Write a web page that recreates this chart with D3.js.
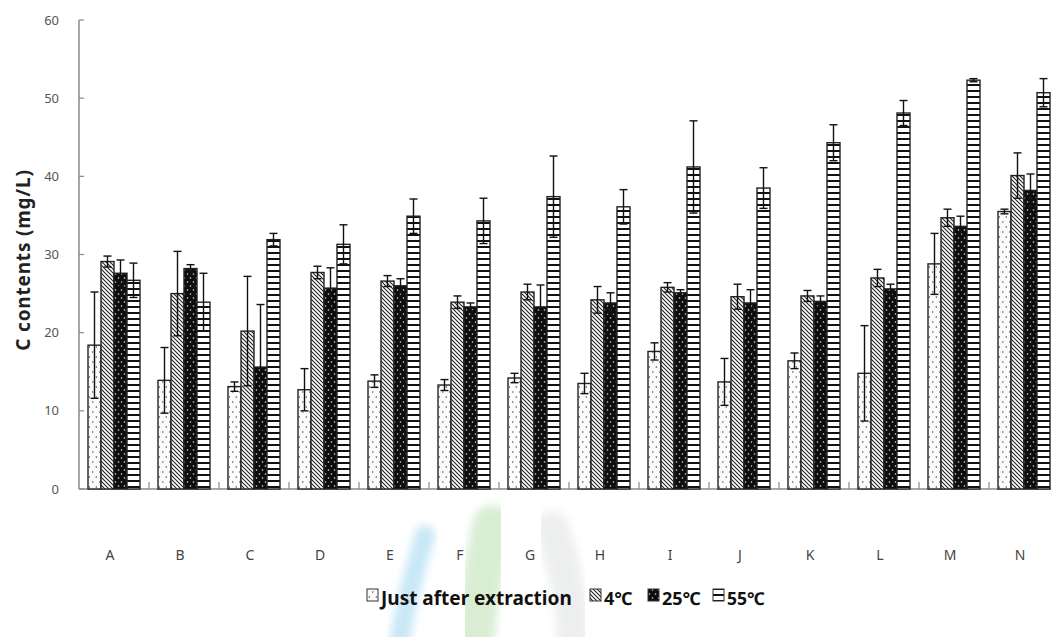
<!DOCTYPE html>
<html>
<head>
<meta charset="utf-8">
<script src="https://cdn.jsdelivr.net/npm/d3@7"></script>
<style>
  html, body { margin: 0; padding: 0; background: #fff; }
  svg { display: block; }
</style>
</head>
<body>
<svg id="chart" width="1051" height="637"></svg>
<script>
// Sample groups and storage conditions
const categories = ["A","B","C","D","E","F","G","H","I","J","K","L","M","N"];
const seriesNames = ["Just after extraction", "4℃", "25℃", "55℃"];

// Mean C contents (mg/L) per series, one value per sample
const justAfter = [18.4, 13.9, 13.1, 12.7, 13.8, 13.3, 14.2, 13.5, 17.6, 13.7, 16.4, 14.8, 28.8, 35.5];
const temp4     = [29.1, 25.0, 20.2, 27.7, 26.6, 23.9, 25.2, 24.2, 25.8, 24.6, 24.7, 27.0, 34.7, 40.1];
const temp25    = [27.6, 28.2, 15.6, 25.7, 26.0, 23.3, 23.3, 23.8, 25.1, 23.8, 24.0, 25.6, 33.6, 38.2];
const temp55    = [26.7, 23.9, 31.9, 31.3, 34.9, 34.3, 37.4, 36.1, 41.2, 38.5, 44.3, 48.1, 52.3, 50.7];

// Standard deviations
const errJust = [6.8, 4.2, 0.6, 2.7, 0.8, 0.7, 0.6, 1.3, 1.1, 3.0, 1.0, 6.1, 3.9, 0.3];
const err4    = [0.7, 5.4, 7.0, 0.8, 0.7, 0.8, 1.0, 1.7, 0.6, 1.6, 0.7, 1.1, 1.1, 2.9];
const err25   = [1.7, 0.5, 8.0, 2.6, 0.9, 0.5, 2.8, 1.3, 0.4, 1.7, 0.7, 0.6, 1.3, 2.1];
const err55   = [2.2, 3.7, 0.8, 2.5, 2.2, 2.9, 5.2, 2.2, 5.9, 2.6, 2.3, 1.6, 0.2, 1.8];

const yTicks = [0, 10, 20, 30, 40, 50, 60];

const seriesValues = [justAfter, temp4, temp25, temp55];
const seriesErrors = [errJust, err4, err25, err55];
const fills = ["url(#pDots)", "url(#pDiag)", "url(#pBlackDots)", "url(#pHoriz)"];

const svg = d3.select("#chart");

// ---- fill patterns ----
const defs = svg.append("defs");

const pDots = defs.append("pattern").attr("id", "pDots")
  .attr("patternUnits", "userSpaceOnUse").attr("width", 7).attr("height", 10);
pDots.append("rect").attr("width", 7).attr("height", 10).attr("fill", "#fbfbfb");
pDots.append("circle").attr("cx", 1.8).attr("cy", 2).attr("r", 0.75).attr("fill", "#444");
pDots.append("circle").attr("cx", 5.3).attr("cy", 7).attr("r", 0.75).attr("fill", "#444");

const pDiag = defs.append("pattern").attr("id", "pDiag")
  .attr("patternUnits", "userSpaceOnUse").attr("width", 4).attr("height", 4);
pDiag.append("rect").attr("width", 4).attr("height", 4).attr("fill", "#fff");
pDiag.append("path").attr("d", "M-1,-1 L5,5 M-1,3 L1,5 M3,-1 L5,1")
  .attr("stroke", "#222").attr("stroke-width", 1.1);

const pBlack = defs.append("pattern").attr("id", "pBlackDots")
  .attr("patternUnits", "userSpaceOnUse").attr("width", 6).attr("height", 8);
pBlack.append("rect").attr("width", 6).attr("height", 8).attr("fill", "#0d0d0d");
pBlack.append("circle").attr("cx", 1.5).attr("cy", 2).attr("r", 0.8).attr("fill", "#ddd");
pBlack.append("circle").attr("cx", 4.5).attr("cy", 6).attr("r", 0.8).attr("fill", "#ddd");

const pHoriz = defs.append("pattern").attr("id", "pHoriz")
  .attr("patternUnits", "userSpaceOnUse").attr("width", 6).attr("height", 6);
pHoriz.append("rect").attr("width", 6).attr("height", 6).attr("fill", "#fff");
pHoriz.append("rect").attr("y", 0).attr("width", 6).attr("height", 2).attr("fill", "#111");

// soft blur for the background emblem strokes
defs.append("filter").attr("id", "softer").attr("x", "-50%").attr("y", "-50%")
  .attr("width", "200%").attr("height", "200%")
  .append("feGaussianBlur").attr("stdDeviation", 4);

// ---- faint background emblem strokes ----
const swooshes = [
  { d: "M425,535 C415,570 405,605 400,640", c: "#bfe3f6", w: 20 },
  { d: "M492,525 C485,565 478,605 474,640", c: "#d3ebcc", w: 40 },
  { d: "M552,528 C565,565 572,605 574,640", c: "#ebeced", w: 34 }
];
svg.append("g").selectAll("path").data(swooshes).join("path")
  .attr("d", d => d.d).attr("fill", "none")
  .attr("stroke", d => d.c).attr("stroke-width", d => d.w)
  .attr("stroke-linecap", "round").attr("opacity", 0.85)
  .attr("filter", "url(#softer)");

// ---- scales ----
const x0 = 79, bandW = 70;
const x = d3.scaleBand().domain(categories).range([x0, x0 + bandW * categories.length]);
const xs = d3.scaleBand().domain(d3.range(seriesNames.length)).range([9, 61]);
const y = d3.scaleLinear().domain([0, 60]).range([489, 20]);

// ---- axes ----
const axisColor = "#8a8a8a";

svg.append("line").attr("x1", x0).attr("x2", x0).attr("y1", y(60)).attr("y2", y(0))
  .attr("stroke", axisColor).attr("stroke-width", 1.5);
svg.append("line").attr("x1", x0).attr("x2", 1051).attr("y1", y(0)).attr("y2", y(0))
  .attr("stroke", axisColor).attr("stroke-width", 1.5);

const yAxis = svg.append("g");
yAxis.selectAll("line").data(yTicks).join("line")
  .attr("x1", x0).attr("x2", x0 + 5).attr("y1", d => y(d)).attr("y2", d => y(d))
  .attr("stroke", axisColor).attr("stroke-width", 1.2);
yAxis.selectAll("text").data(yTicks).join("text")
  .attr("x", 59).attr("y", d => y(d)).attr("dy", "0.35em")
  .attr("text-anchor", "end")
  .attr("font-family", "'Noto Sans', 'DejaVu Sans', sans-serif")
  .attr("font-size", 13).attr("fill", "#555")
  .text(d => d);

// category boundary ticks pointing into the plot
const boundaries = categories.slice(1).map(c => x(c));
svg.append("g").selectAll("line").data(boundaries).join("line")
  .attr("x1", d => d).attr("x2", d => d).attr("y1", y(0)).attr("y2", y(0) - 7)
  .attr("stroke", axisColor).attr("stroke-width", 1.2);

svg.append("g").selectAll("text").data(categories).join("text")
  .attr("x", d => x(d) + bandW / 2 - 4).attr("y", 560)
  .attr("text-anchor", "middle")
  .attr("font-family", "'Noto Sans', 'DejaVu Sans', sans-serif")
  .attr("font-size", 14).attr("fill", "#444")
  .text(d => d);

// y-axis title
svg.append("text")
  .attr("transform", "translate(30,260) rotate(-90)")
  .attr("text-anchor", "middle")
  .attr("font-family", "'Noto Sans', 'DejaVu Sans', sans-serif")
  .attr("font-weight", "bold").attr("font-size", 19).attr("letter-spacing", 0.8)
  .attr("fill", "#222")
  .text("C contents (mg/L)");

// ---- bars ----
const rows = [];
categories.forEach((c, i) => {
  seriesNames.forEach((s, k) => {
    rows.push({ c, k, v: seriesValues[k][i], e: seriesErrors[k][i] });
  });
});

const bars = svg.append("g");
bars.selectAll("rect").data(rows).join("rect")
  .attr("x", d => x(d.c) + xs(d.k))
  .attr("y", d => y(d.v))
  .attr("width", xs.bandwidth())
  .attr("height", d => y(0) - y(d.v))
  .attr("fill", d => fills[d.k])
  .attr("stroke", "#222").attr("stroke-width", 1.4);

// ---- error bars ----
const eb = svg.append("g").attr("stroke", "#111").attr("stroke-width", 1.4);
rows.forEach(d => {
  const cx = x(d.c) + xs(d.k) + xs.bandwidth() / 2;
  const g = eb.append("g");
  g.append("line").attr("x1", cx).attr("x2", cx).attr("y1", y(d.v + d.e)).attr("y2", y(d.v - d.e));
  g.append("line").attr("x1", cx - 4).attr("x2", cx + 4).attr("y1", y(d.v + d.e)).attr("y2", y(d.v + d.e));
  g.append("line").attr("x1", cx - 4).attr("x2", cx + 4).attr("y1", y(d.v - d.e)).attr("y2", y(d.v - d.e));
});

// ---- legend ----
const legendX = [367, 590, 648, 713];
const legendSize = [19, 18, 18, 17.5];
const legend = svg.append("g");
seriesNames.forEach((s, k) => {
  legend.append("rect").attr("x", legendX[k]).attr("y", 589).attr("width", 11).attr("height", 12)
    .attr("fill", fills[k]).attr("stroke", "#333").attr("stroke-width", 1);
  legend.append("text").attr("x", legendX[k] + 14).attr("y", 605)
    .attr("font-family", "'Noto Sans', 'DejaVu Sans', sans-serif")
    .attr("font-weight", "bold").attr("font-size", legendSize[k]).attr("fill", "#111")
    .text(s);
});
</script>
</body>
</html>
